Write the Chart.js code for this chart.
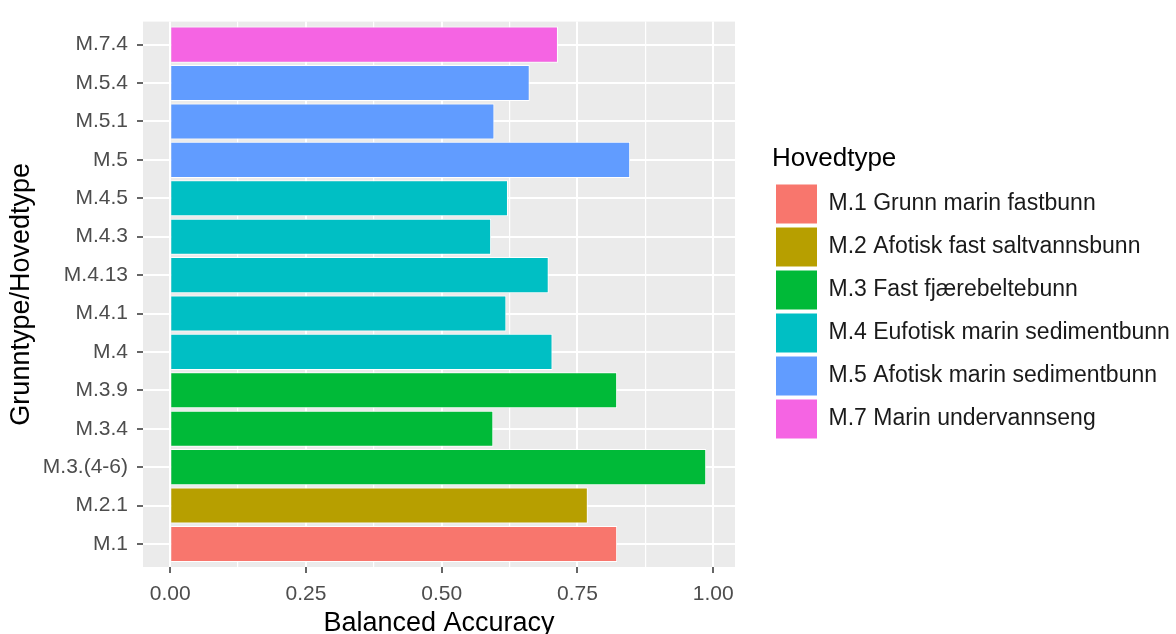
<!DOCTYPE html>
<html>
<head>
<meta charset="utf-8">
<script src="https://cdn.jsdelivr.net/npm/chart.js@4/dist/chart.umd.min.js"></script>
<style>
  html, body { margin: 0; padding: 0; background: #ffffff; }
  #wrap { width: 1176px; height: 634px; position: relative; }
</style>
</head>
<body>
<div id="wrap"><canvas id="c" width="1176" height="634"></canvas></div>
<script>
// ---- data ----
const categories = ['M.1', 'M.2.1', 'M.3.(4-6)', 'M.3.4', 'M.3.9', 'M.4', 'M.4.1', 'M.4.13', 'M.4.3', 'M.4.5', 'M.5', 'M.5.1', 'M.5.4', 'M.7.4'];
const accuracy   = [0.823, 0.769, 0.987, 0.595, 0.823, 0.704, 0.619, 0.697, 0.591, 0.622, 0.847, 0.597, 0.662, 0.714];
const groupOf    = ['M.1', 'M.2', 'M.3', 'M.3', 'M.3', 'M.4', 'M.4', 'M.4', 'M.4', 'M.4', 'M.5', 'M.5', 'M.5', 'M.7'];
const groups      = ['M.1', 'M.2', 'M.3', 'M.4', 'M.5', 'M.7'];
const groupLabels = ['M.1 Grunn marin fastbunn', 'M.2 Afotisk fast saltvannsbunn', 'M.3 Fast fjærebeltebunn', 'M.4 Eufotisk marin sedimentbunn', 'M.5 Afotisk marin sedimentbunn', 'M.7 Marin undervannseng'];
const groupColors = ['#F8766D', '#B79F00', '#00BA38', '#00BFC4', '#619CFF', '#F564E3'];
const xMajorTicks = [0, 0.25, 0.5, 0.75, 1];
const xMinorTicks = [0.125, 0.375, 0.625, 0.875];
const xTitle = 'Balanced Accuracy';
const yTitle = 'Grunntype/Hovedtype';
const legendTitle = 'Hovedtype';

// ---- build datasets ----
const datasets = groups.map((g, gi) => ({
  label: groupLabels[gi],
  data: categories.map((c, i) => ({ x: accuracy[i], y: i })).filter((p, i) => groupOf[i] === g),
  backgroundColor: groupColors[gi],
  borderColor: '#ffffff',
  borderWidth: 1,
  grouped: false,
  categoryPercentage: 1,
  barPercentage: 0.94,
  xAxisID: 'x',
  yAxisID: 'y'
}));

const isMajor = v => xMajorTicks.some(t => Math.abs(t - v) < 1e-9);

Chart.defaults.font.family = '"Liberation Sans", Arial, sans-serif';

const panelBg = {
  id: 'panelBg',
  beforeDraw(chart) {
    const { ctx, chartArea: { left, top, width, height } } = chart;
    ctx.save();
    ctx.fillStyle = '#EBEBEB';
    ctx.fillRect(left, top, width, height);
    ctx.restore();
  }
};

const chart = new Chart(document.getElementById('c'), {
  type: 'bar',
  data: { datasets },
  plugins: [panelBg],
  options: {
    responsive: false,
    animation: false,
    events: [],
    indexAxis: 'y',
    layout: { padding: { top: 13, left: 0, right: 0, bottom: 0 } },
    scales: {
      x: {
        type: 'linear',
        position: 'bottom',
        min: -0.05,
        max: 1.04,
        offset: false,
        afterBuildTicks(s) {
          s.ticks = xMajorTicks.concat(xMinorTicks).sort((a, b) => a - b).map(v => ({ value: v }));
        },
        afterFit(s) { s.height = 67; },
        border: { display: false },
        grid: {
          offset: false,
          color: '#ffffff',
          lineWidth: c => (c.tick && isMajor(c.tick.value)) ? 2 : 1.2,
          tickLength: 6,
          tickColor: c => (c.tick && isMajor(c.tick.value)) ? '#333333' : 'rgba(0,0,0,0)',
          tickWidth: 1.5
        },
        ticks: {
          autoSkip: false,
          maxRotation: 0,
          padding: 9,
          color: '#4D4D4D',
          font: { size: 21 },
          callback: v => isMajor(v) ? v.toFixed(2) : ''
        },
        title: {
          display: true,
          text: xTitle,
          color: '#000000',
          font: { size: 27 },
          padding: { top: 0, bottom: -6 }
        }
      },
      y: {
        type: 'linear',
        position: 'left',
        min: -0.6,
        max: 13.6,
        offset: false,
        afterBuildTicks(s) {
          s.ticks = categories.map((c, i) => ({ value: i }));
        },
        afterFit(s) { s.width = 143; },
        border: { display: false },
        grid: {
          offset: false,
          color: '#ffffff',
          lineWidth: 2,
          tickLength: 6,
          tickColor: '#333333',
          tickWidth: 1.5
        },
        ticks: {
          autoSkip: false,
          padding: 9,
          color: '#4D4D4D',
          font: { size: 21 },
          callback: v => categories[v]
        },
        title: {
          display: true,
          text: yTitle,
          color: '#000000',
          font: { size: 27 },
          padding: { top: 5, bottom: 0 }
        }
      },
      pad: {
        type: 'linear',
        position: 'right',
        display: true,
        border: { display: false },
        grid: { display: false, drawTicks: false },
        ticks: { display: false },
        afterFit(s) { s.width = 37; }
      }
    },
    plugins: {
      tooltip: { enabled: false },
      legend: {
        position: 'right',
        align: 'center',
        fullSize: false,
        title: {
          display: true,
          text: legendTitle,
          position: 'start',
          color: '#000000',
          font: { size: 26 },
          padding: { top: 0, bottom: 3 }
        },
        labels: {
          boxWidth: 41,
          boxHeight: 39,
          padding: 4,
          color: '#1a1a1a',
          font: { size: 23 },
          generateLabels: ch => ch.data.datasets.map((d, i) => ({
            text: d.label,
            fillStyle: d.backgroundColor,
            strokeStyle: 'rgba(0,0,0,0)',
            lineWidth: 0,
            hidden: false,
            datasetIndex: i,
            fontColor: '#1a1a1a'
          }))
        }
      }
    }
  }
});

// give the legend box the full width it needs on the right side
const legendFit = chart.legend.fit;
chart.legend.fit = function () {
  legendFit.call(this);
  this.width = 1176 - 735 - 37;
};
chart.update();
</script>
</body>
</html>
